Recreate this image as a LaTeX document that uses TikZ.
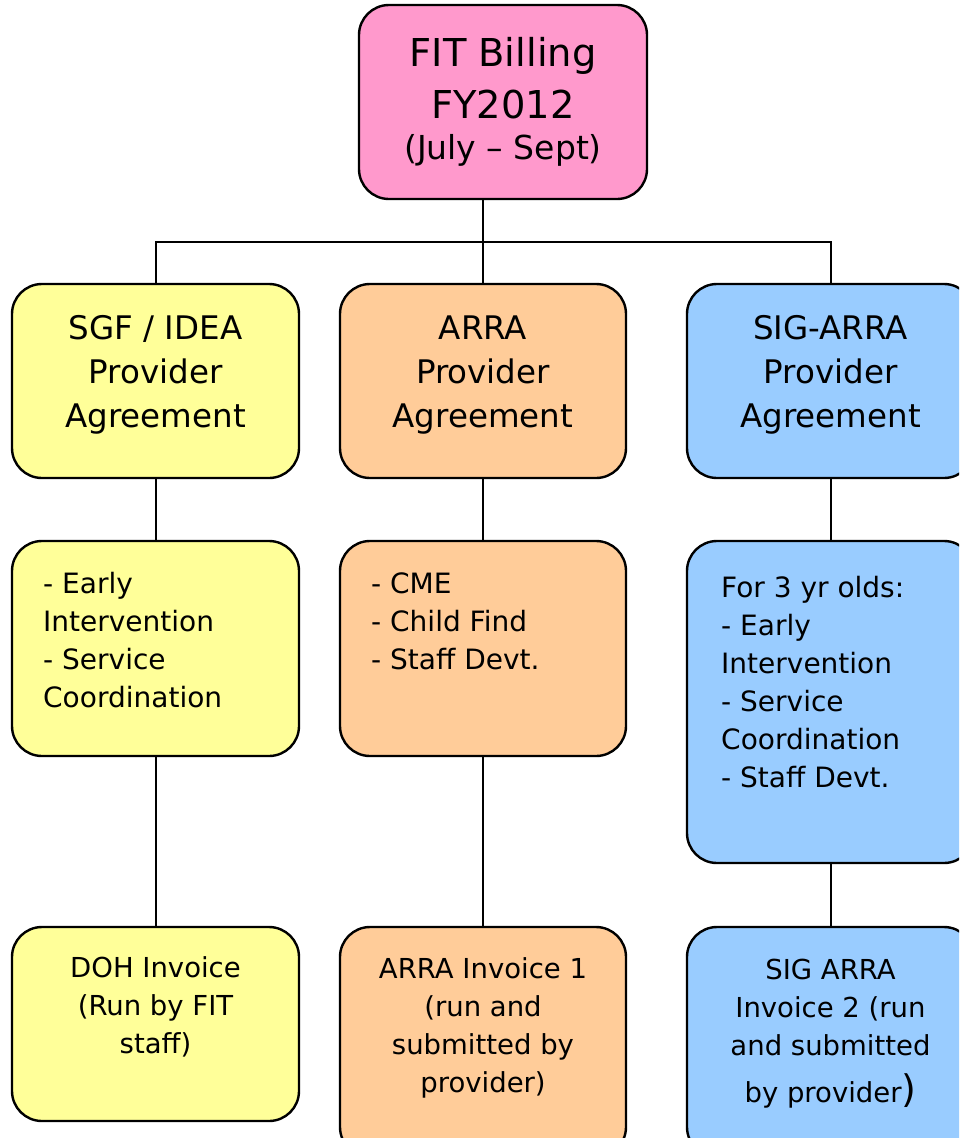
\documentclass[tikz,border=0pt]{standalone}
\usepackage{fontspec}
\setmainfont{DejaVu Sans}
\definecolor{cpink}{HTML}{FF99CC}
\definecolor{cyellow}{HTML}{FFFF99}
\definecolor{corange}{HTML}{FFCC99}
\definecolor{cblue}{HTML}{99CCFF}
\tikzset{
  box/.style={draw=black, line width=2.4pt, rounded corners=30pt, inner sep=0pt},
  conn/.style={draw=black, line width=2pt},
  txt/.style={inner sep=0pt, text=black},
  titlefont/.style={font=\fontsize{38.4}{52.5}\selectfont},
  headfont/.style={font=\fontsize{32.5}{44}\selectfont},
  listfont/.style={font=\fontsize{28}{38}\selectfont},
  invfont/.style={font=\fontsize{27.5}{38}\selectfont},
}
\begin{document}
\begin{tikzpicture}[x=1pt,y=-1pt]
\useasboundingbox (0,0) rectangle (959,1138);
\clip (0,0) rectangle (959,1138);
% boxes
\node[box, fill=cpink, minimum width=288pt, minimum height=194pt] (top) at (503,102) {};
\node[box, fill=cyellow, minimum width=287pt, minimum height=194pt] (y1) at (155.5,381) {};
\node[box, fill=corange, minimum width=286pt, minimum height=194pt] (o1) at (483,381) {};
\node[box, fill=cblue, minimum width=287pt, minimum height=194pt] (b1) at (830.5,381) {};
\node[box, fill=cyellow, minimum width=287pt, minimum height=215pt] (y2) at (155.5,648.5) {};
\node[box, fill=corange, minimum width=286pt, minimum height=215pt] (o2) at (483,648.5) {};
\node[box, fill=cblue, minimum width=287pt, minimum height=322pt] (b2) at (830.5,702) {};
\node[box, fill=cyellow, minimum width=287pt, minimum height=194pt] (y3) at (155.5,1024) {};
\node[box, fill=corange, minimum width=286pt, minimum height=230pt] (o3) at (483,1042) {};
\node[box, fill=cblue, minimum width=287pt, minimum height=230pt] (b3) at (830.5,1042) {};
% connectors
\coordinate (bus) at (483,241.5);
\draw[conn] (top.south -| bus) -- (o1.north);
\draw[conn] (y1.north) |- (bus) -| (b1.north);
\draw[conn] (y1.south) -- (y2.north);
\draw[conn] (o1.south) -- (o2.north);
\draw[conn] (b1.south) -- (b2.north);
\draw[conn] (y2.south) -- (y3.north);
\draw[conn] (o2.south) -- (o3.north);
\draw[conn] (b2.south) -- (b3.north);
% texts (anchored at the baseline of the last line)
\node[txt, titlefont, align=center, anchor=base] (ttop) at (503,159.5)
  {FIT Billing\\FY2012\\[-11.5pt]{\fontsize{33}{41}\selectfont (July – Sept)}};
\node[txt, headfont, align=center, anchor=base] (ty1) at (155.5,427)
  {SGF / IDEA\\Provider\\Agreement};
\node[txt, headfont, align=center, anchor=base] (to1) at (483,427)
  {ARRA\\Provider\\Agreement};
\node[txt, headfont, align=center, anchor=base] (tb1) at (830.5,427)
  {SIG-ARRA\\Provider\\Agreement};
\node[txt, listfont, align=left, anchor=base west] (ty2) at (43,707)
  {- Early\\Intervention\\- Service\\Coordination};
\node[txt, listfont, align=left, anchor=base west] (to2) at (371,669)
  {- CME\\- Child Find\\- Staff Devt.};
\node[txt, listfont, align=left, anchor=base west] (tb2) at (721,787.5)
  {For 3 yr olds:\\- Early\\Intervention\\- Service\\Coordination\\- Staff Devt.};
\node[txt, invfont, align=center, anchor=base] (ty3) at (155.5,1053)
  {DOH Invoice\\(Run by FIT\\staff)};
\node[txt, invfont, align=center, anchor=base] (to3) at (483,1092)
  {ARRA Invoice 1\\(run and\\submitted by\\provider)};
\node[txt, invfont, align=center, anchor=base] (tb3) at (830.5,1102)
  {SIG ARRA\\Invoice 2 (run\\and submitted\\[9pt]by provider{\fontsize{38}{38}\selectfont)}};
\end{tikzpicture}
\end{document}
